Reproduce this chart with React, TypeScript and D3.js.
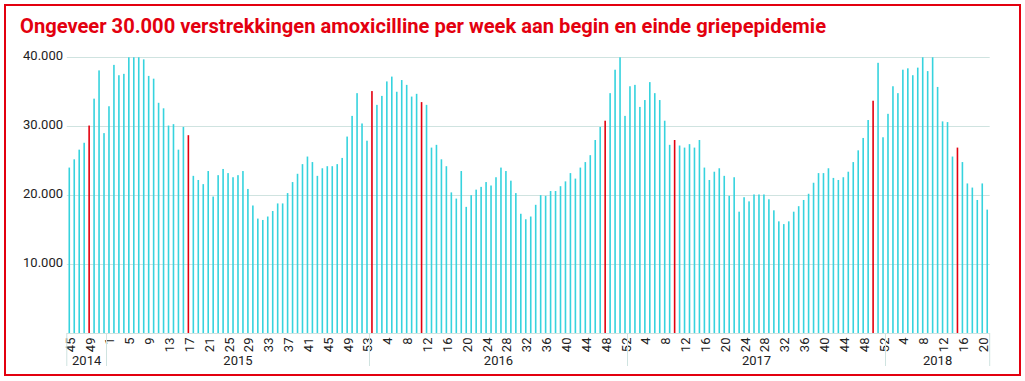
import React from "react";
import * as d3 from "d3";

const title = "Ongeveer 30.000 verstrekkingen amoxicilline per week aan begin en einde griepepidemie";

const years = ["2014", "2015", "2016", "2017", "2018"];
const firstWeeks = [45, 1, 1, 1, 1];

const v2014 = [24000, 25200, 26600, 27600, 30100, 34000, 38100, 29000];
const v2015 = [
  32900, 38900, 37400, 37600, 40000, 40000, 40000, 39700, 37300, 36900,
  33400, 32600, 30100, 30300, 26600, 29900, 28700, 22800, 22200, 21600,
  23500, 19800, 22900, 23800, 23200, 22600, 22900, 23500, 20900, 18500,
  16600, 16400, 16900, 17700, 18800, 18800, 20300, 21900, 23100, 24500,
  25600, 24800, 22800, 23900, 24200, 24200, 24500, 25400, 28500, 31500,
  34800, 30400, 27900,
];
const v2016 = [
  35100, 33100, 34400, 36500, 37200, 35000, 36700, 36000, 34300, 34700,
  33500, 33100, 26900, 27300, 25200, 24200, 20400, 19500, 23500, 18300,
  20000, 20800, 21200, 21900, 21400, 22600, 24000, 23500, 22100, 20300,
  17300, 16500, 16900, 18600, 20000, 19900, 20600, 20600, 21300, 22000,
  23200, 22400, 24000, 24800, 25800, 28000, 29900, 30800, 34800, 38200,
  40000, 31500,
];
const v2017 = [
  35800, 36000, 32800, 33800, 36400, 34800, 33800, 30800, 27300, 28000,
  27200, 26900, 27400, 26900, 28000, 24000, 22200, 23400, 23900, 22800,
  19900, 22600, 17600, 19700, 19100, 20100, 20100, 20100, 19400, 17800,
  16200, 15800, 16200, 17600, 18400, 19300, 20200, 21800, 23200, 23200,
  23900, 22500, 22200, 22600, 23400, 24800, 26500, 28300, 30900, 33700,
  39200, 28400,
];
const v2018 = [
  31800, 35800, 34800, 38200, 38400, 37400, 38500, 40000, 38000, 40000,
  35700, 30700, 30600, 25600, 26900, 24800, 21700, 21100, 19300, 21700,
  17900,
];
const seriesByYear = [v2014, v2015, v2016, v2017, v2018];

// weeks highlighted in red (begin / end of flu epidemic)
const redWeeks = ["2014-49", "2015-17", "2016-1", "2016-11", "2016-48", "2017-10", "2017-50", "2018-15"];

const yTicks = [10000, 20000, 30000, 40000];

type Row = { key: string; year: string; week: number; value: number; red: boolean };

const rows: Row[] = [];
years.forEach((y, yi) => {
  seriesByYear[yi].forEach((v, i) => {
    const w = firstWeeks[yi] + i;
    rows.push({ key: `${y}-${w}`, year: y, week: w, value: v, red: redWeeks.includes(`${y}-${w}`) });
  });
});

const W = 1025;
const H = 381;
const RED = "#e3000f";
const CYAN = "#36d3de";
const GRID = "#cfe3e0";
const FONT = "Roboto, 'DejaVu Sans', sans-serif";

export default function App() {
  const x = d3
    .scaleBand<string>()
    .domain(rows.map((r) => r.key))
    .range([66.8, 989.7])
    .paddingInner(0)
    .paddingOuter(0);
  const y = d3.scaleLinear().domain([0, 40000]).range([333, 57.3]);
  const bw = 1.6;
  const fmt = (v: number) => d3.format(",")(v).replace(/,/g, ".");

  const groups = years.map((yr) => {
    const yrRows = rows.filter((r) => r.year === yr);
    const start = x(yrRows[0].key) as number;
    const end = (x(yrRows[yrRows.length - 1].key) as number) + x.bandwidth();
    return { yr, start, end };
  });

  return (
    <svg
      width={W}
      height={H}
      style={{ position: "absolute", left: 0, top: 0, background: "#fff" }}
      fontFamily={FONT}
    >
      <rect x={5} y={5} width={1015} height={370} fill="#fff" stroke={RED} strokeWidth={2} />
      <text
        x={20}
        y={33}
        fill={RED}
        fontSize={21}
        fontWeight="bold"
        textLength={806}
        lengthAdjust="spacingAndGlyphs"
      >
        {title}
      </text>

      {yTicks.map((t) => (
        <g key={t}>
          <line x1={66.8} x2={989.7} y1={Math.round(y(t)) + 0.5} y2={Math.round(y(t)) + 0.5} stroke={GRID} strokeWidth={1} />
          <text x={63} y={y(t) + 3} textAnchor="end" fontSize={13} fill="#222">
            {fmt(t)}
          </text>
        </g>
      ))}

      {rows.map((r) => {
        const cx = (x(r.key) as number) + x.bandwidth() / 2;
        return (
          <rect
            key={r.key}
            x={cx - bw / 2}
            y={y(r.value)}
            width={bw}
            height={y(0) - y(r.value)}
            fill={r.red ? RED : CYAN}
          />
        );
      })}

      <line x1={66.8} x2={989.7} y1={333.5} y2={333.5} stroke={GRID} strokeWidth={1} />

      {rows.map((r, i) => {
        if (i % 4 !== 0) return null;
        const cx = (x(r.key) as number) + x.bandwidth() / 2;
        return (
          <text
            key={"t" + r.key}
            transform={`translate(${cx + 5.5},337.5) rotate(-90)`}
            textAnchor="end"
            fontSize={13}
            fill="#222"
          >
            {r.week}
          </text>
        );
      })}

      {groups.map((g) => (
        <g key={g.yr}>
          <line x1={g.start} x2={g.start} y1={333} y2={366} stroke={GRID} strokeWidth={1} />
          <text x={(g.start + g.end) / 2} y={365} textAnchor="middle" fontSize={13} fill="#222">
            {g.yr}
          </text>
        </g>
      ))}
      <line x1={989.7} x2={989.7} y1={333} y2={366} stroke={GRID} strokeWidth={1} />
    </svg>
  );
}
